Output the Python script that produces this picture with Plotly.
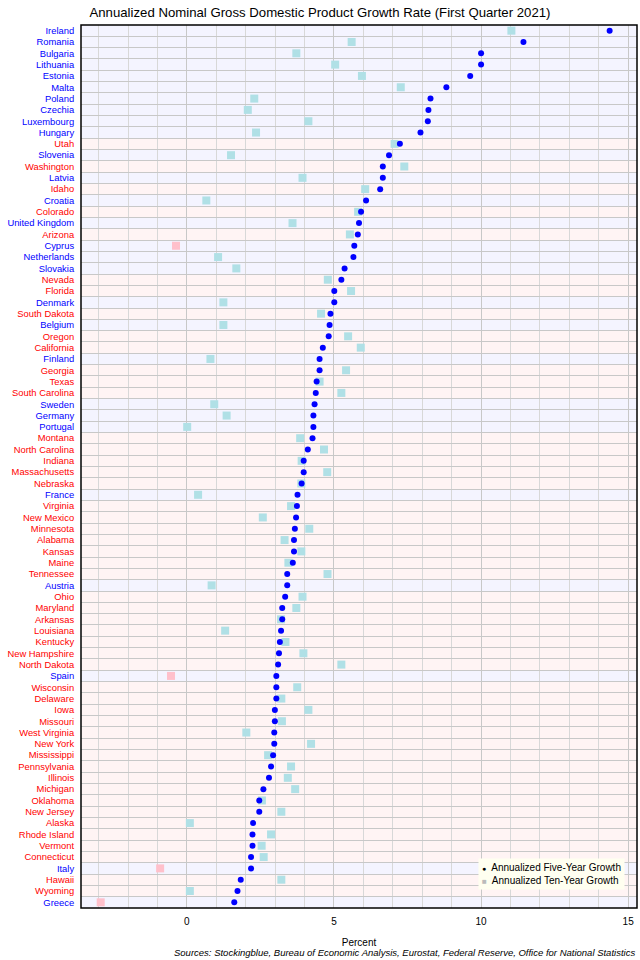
import plotly.graph_objects as go

regions = ["Ireland", "Romania", "Bulgaria", "Lithuania", "Estonia", "Malta", "Poland", "Czechia",
           "Luxembourg", "Hungary", "Utah", "Slovenia", "Washington", "Latvia", "Idaho", "Croatia",
           "Colorado", "United Kingdom", "Arizona", "Cyprus", "Netherlands", "Slovakia", "Nevada",
           "Florida", "Denmark", "South Dakota", "Belgium", "Oregon", "California", "Finland",
           "Georgia", "Texas", "South Carolina", "Sweden", "Germany", "Portugal", "Montana",
           "North Carolina", "Indiana", "Massachusetts", "Nebraska", "France", "Virginia",
           "New Mexico", "Minnesota", "Alabama", "Kansas", "Maine", "Tennessee", "Austria", "Ohio",
           "Maryland", "Arkansas", "Louisiana", "Kentucky", "New Hampshire", "North Dakota", "Spain",
           "Wisconsin", "Delaware", "Iowa", "Missouri", "West Virginia", "New York", "Mississippi",
           "Pennsylvania", "Illinois", "Michigan", "Oklahoma", "New Jersey", "Alaska", "Rhode Island",
           "Vermont", "Connecticut", "Italy", "Hawaii", "Wyoming", "Greece"]

countries = {"Ireland", "Romania", "Bulgaria", "Lithuania", "Estonia", "Malta", "Poland", "Czechia",
             "Luxembourg", "Hungary", "Slovenia", "Latvia", "Croatia", "United Kingdom", "Cyprus",
             "Netherlands", "Slovakia", "Denmark", "Belgium", "Finland", "Sweden", "Germany",
             "Portugal", "France", "Austria", "Spain", "Italy", "Greece"}

five_year = [14.37, 11.44, 10.0, 10.0, 9.63, 8.82, 8.28, 8.21, 8.19, 7.94, 7.24, 6.87, 6.66, 6.66,
             6.57, 6.09, 5.92, 5.85, 5.81, 5.69, 5.66, 5.36, 5.25, 5.01, 5.01, 4.88, 4.85, 4.82,
             4.62, 4.51, 4.51, 4.41, 4.38, 4.34, 4.30, 4.30, 4.27, 4.11, 3.97, 3.97, 3.90, 3.76,
             3.74, 3.71, 3.67, 3.64, 3.64, 3.60, 3.41, 3.41, 3.34, 3.24, 3.24, 3.20, 3.16, 3.13,
             3.10, 3.04, 3.04, 3.04, 2.99, 2.99, 2.97, 2.97, 2.93, 2.86, 2.79, 2.60, 2.46, 2.46,
             2.25, 2.23, 2.23, 2.18, 2.18, 1.83, 1.72, 1.61]

ten_year = [11.03, 5.60, 3.72, 5.04, 5.95, 7.27, 2.29, 2.07, 4.13, 2.35, 7.06, 1.50, 7.39, 3.93,
            6.06, 0.66, 5.82, 3.59, 5.54, -0.37, 1.06, 1.68, 4.79, 5.58, 1.24, 4.56, 1.24, 5.48,
            5.91, 0.80, 5.41, 4.51, 5.25, 0.93, 1.35, 0.01, 3.85, 4.66, 3.90, 4.77, 3.89, 0.38,
            3.54, 2.58, 4.16, 3.32, 3.89, 3.45, 4.78, 0.84, 3.93, 3.72, 3.20, 1.30, 3.35, 3.96,
            5.25, -0.54, 3.75, 3.21, 4.13, 3.23, 2.02, 4.22, 2.76, 3.54, 3.43, 3.68, 2.55, 3.21,
            0.10, 2.86, 2.54, 2.61, -0.91, 3.21, 0.10, -2.93]

x_ticks = [0, 5, 10, 15]

FONT = "Liberation Sans, Arial, sans-serif"
idx = list(range(len(regions)))
is_country = [r in countries for r in regions]

ticktext = [
    f"<span style='color:{'#0000FF' if c else '#FF0000'}'>{r}</span>"
    for r, c in zip(regions, is_country)
]

fig = go.Figure()

# row backgrounds
shapes = []
for i, c in zip(idx, is_country):
    shapes.append(dict(type="rect", xref="paper", yref="y", x0=0, x1=1, y0=i - 0.5, y1=i + 0.5,
                       fillcolor="#F4F4FF" if c else "#FFF4F4", line=dict(width=0), layer="below"))
shapes.append(dict(type="rect", xref="paper", yref="paper", x0=0, x1=1, y0=0, y1=1,
                   line=dict(color="black", width=1.5), fillcolor="rgba(0,0,0,0)", layer="above"))

fig.add_trace(go.Scatter(
    x=ten_year, y=idx, mode="markers", showlegend=False,
    marker=dict(symbol="square", size=8,
                color=["#FFC0CB" if v < 0 else "#B0E0E6" for v in ten_year]),
    hoverinfo="x"))
fig.add_trace(go.Scatter(
    x=five_year, y=idx, mode="markers", showlegend=False,
    marker=dict(symbol="circle", size=6, color="#0000FF"),
    hoverinfo="x"))

legend_text = ("<span style='color:black;font-size:7px'>●</span>  Annualized Five-Year Growth<br>"
               "<span style='color:#BBBBBB;font-size:8px'>■</span>  Annualized Ten-Year Growth")

fig.update_layout(
    width=640, height=960,
    margin=dict(l=81, r=3, t=25, b=52),
    paper_bgcolor="white", plot_bgcolor="white",
    font=dict(family=FONT, size=10, color="black"),
    title=dict(text="Annualized Nominal Gross Domestic Product Growth Rate (First Quarter 2021)",
               x=0.5, xanchor="center", y=1 - 12 / 960, yanchor="middle",
               font=dict(size=13.2, family=FONT, color="black")),
    shapes=shapes,
    showlegend=False,
    annotations=[
        dict(text="<i>Sources: Stockingblue, Bureau of Economic Analysis, Eurostat, Federal Reserve, Office for National Statistics</i>",
             xref="paper", yref="paper", x=1, xanchor="right", y=-(953 - 908) / 883, yanchor="middle",
             showarrow=False, font=dict(size=9.5, family=FONT)),
        dict(text=legend_text, xref="paper", yref="paper", x=0.978, xanchor="right",
             y=0.02, yanchor="bottom", showarrow=False, align="left",
             bgcolor="#FFFFF0", borderpad=3, font=dict(size=10, family=FONT, color="black")),
    ],
)

fig.update_xaxes(
    range=[-3.6, 15.3], tickvals=x_ticks, ticktext=[str(t) for t in x_ticks],
    showgrid=True, gridcolor="#C8C8C8", gridwidth=1, zeroline=False,
    minor=dict(dtick=1, tick0=0, showgrid=True, gridcolor="#D8D8D8", gridwidth=1),
    ticks="outside", ticklen=4, tickcolor="rgba(0,0,0,0)", tickfont=dict(size=10),
    title=dict(text="Percent", font=dict(size=10), standoff=12),
    automargin=False,
)
fig.update_yaxes(
    range=[len(regions) - 0.5, -0.5], tickmode="array", tickvals=idx, ticktext=ticktext,
    showgrid=False, zeroline=False, ticks="outside", ticklen=4, tickcolor="rgba(0,0,0,0)",
    tickfont=dict(size=9.4), automargin=False,
    minor=dict(tickmode="array", tickvals=[i + 0.5 for i in idx[:-1]], showgrid=True,
               gridcolor="#C8C8C8", gridwidth=1, ticks=""),
)

fig.write_html("out.html", config={"displayModeBar": False},
               post_script="document.body.style.margin='0';")
